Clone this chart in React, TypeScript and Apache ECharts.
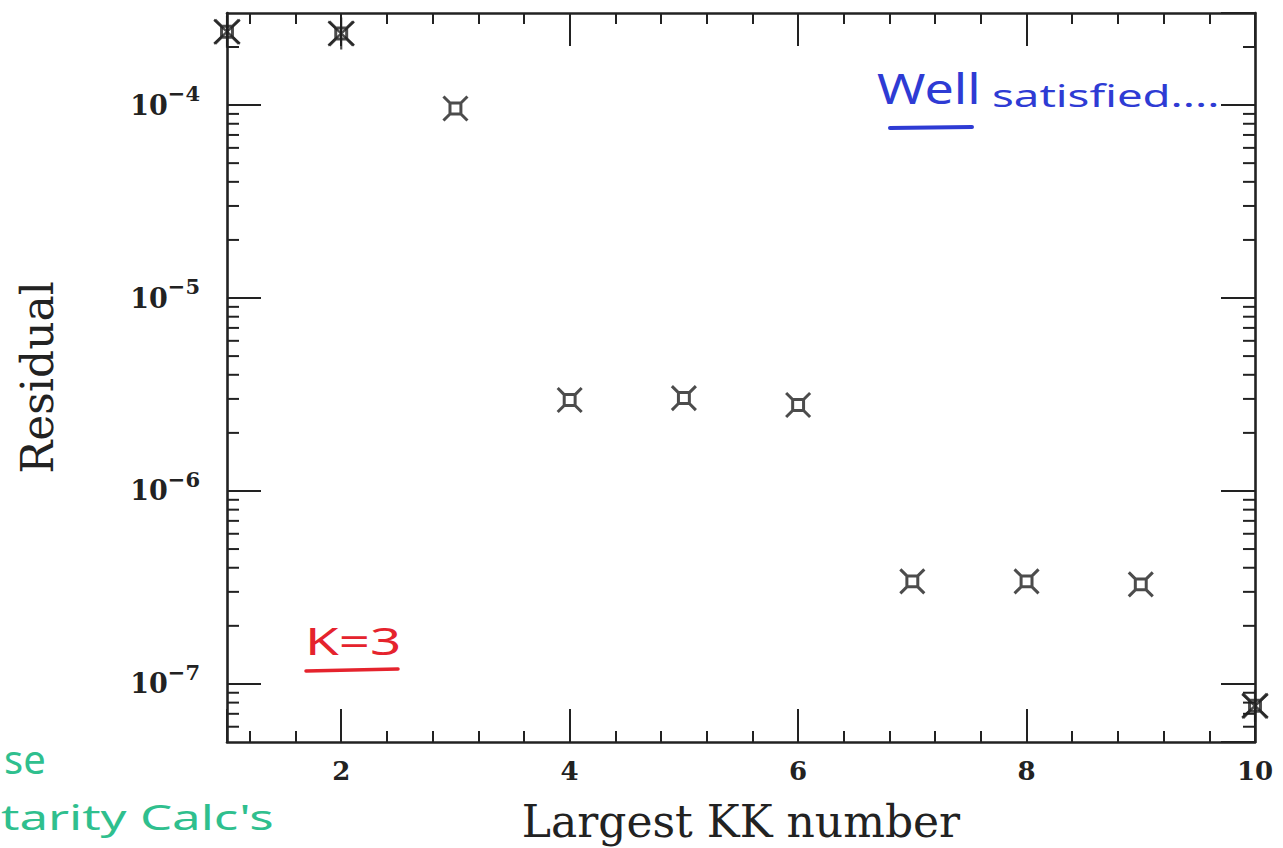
import { useEffect, useRef } from "react";
import * as echarts from "echarts";

// Residual of the KK fit versus the largest KK number included
const kkNumbers = [1, 2, 3, 4, 5, 6, 7, 8, 9, 10];
const residuals = [2.4e-4, 2.35e-4, 9.6e-5, 2.96e-6, 3.03e-6, 2.79e-6, 3.4e-7, 3.4e-7, 3.28e-7, 7.7e-8];

// points plotted twice (drawn with an extra overlaid glyph)
const doubledKK = [1, 2, 10];
const doubledResidual = [2.4e-4, 2.35e-4, 7.7e-8];

// axis ranges
const xMin = 1;
const xMax = 10;
const yMin = 5e-8;
const yMax = 3e-4;

// logarithmic minor tick positions: mantissa × 10^decade
const minorMantissas = [2, 3, 4, 5, 6, 7, 8, 9];
const decades = [-8, -7, -6, -5, -4];

const axisColor = "#222222";
const markColor = "#1f1f1f";
const serif = "'DejaVu Serif', 'Liberation Serif', serif";
const hand = "'Noto Sans', 'DejaVu Sans', sans-serif";
const blue = "#2e3bd4";
const red = "#e5232d";
const green = "#2fbf8e";

// hollow square with four diagonal spikes
const starSquare =
  "path://M7 7 L17 7 L17 17 L7 17 Z M7 7 L1 1 M17 7 L23 1 M17 17 L23 23 M7 17 L1 23";
// asterisk-like glyph laid over doubled points
const asterisk = "path://M13 0 L13 32 M1 4 L25 28 M25 4 L1 28";

export default function App() {
  const ref = useRef<HTMLDivElement>(null);

  useEffect(() => {
    if (!ref.current) return;
    const chart = echarts.init(ref.current, undefined, { renderer: "svg" });

    const minorTickValues: number[][] = [];
    decades.forEach((d) => {
      minorMantissas.forEach((m) => {
        const v = m * Math.pow(10, d);
        if (v > yMin && v < yMax) minorTickValues.push([xMin, v]);
      });
    });

    const yLabel = (v: number) => {
      const e = Math.round(Math.log10(v));
      if (Math.abs(Math.log10(v) - e) > 1e-6) return "";
      return `{b|10}{s|\u2212${Math.abs(e)}}`;
    };

    const xAxisBase = {
      type: "value" as const,
      min: xMin,
      max: xMax,
      splitNumber: 5,
      splitLine: { show: false },
      axisLine: { show: true, onZero: false, lineStyle: { color: axisColor, width: 2.6 } },
      axisTick: { show: true, inside: true, length: 33, lineStyle: { color: axisColor, width: 2 } },
      minorTick: { show: true, splitNumber: 5, length: 11, lineStyle: { color: axisColor, width: 2 } },
    };

    const yAxisBase = {
      type: "log" as const,
      logBase: 10,
      min: yMin,
      max: yMax,
      splitLine: { show: false },
      axisLine: { show: true, onZero: false, lineStyle: { color: axisColor, width: 2.6 } },
      axisTick: { show: true, inside: true, length: 34, lineStyle: { color: axisColor, width: 2 } },
      minorTick: { show: false },
    };

    chart.setOption({
      animation: false,
      backgroundColor: "#ffffff",
      grid: { left: 227, right: 28, top: 13, bottom: 104, containLabel: false },
      xAxis: [
        {
          ...xAxisBase,
          position: "bottom",
          name: "Largest KK number",
          nameLocation: "middle",
          nameGap: 57,
          nameTextStyle: { fontFamily: serif, fontSize: 44, color: axisColor },
          axisLabel: {
            show: true,
            margin: 16,
            showMinLabel: false,
            fontFamily: serif,
            fontWeight: "bold",
            fontSize: 26,
            color: axisColor,
          },
        },
        { ...xAxisBase, position: "top", axisLabel: { show: false } },
      ],
      yAxis: [
        {
          ...yAxisBase,
          position: "left",
          name: "Residual",
          nameLocation: "middle",
          nameRotate: 90,
          nameGap: 168,
          nameTextStyle: { fontFamily: serif, fontSize: 44, color: axisColor },
          axisLabel: {
            show: true,
            margin: 27,
            showMinLabel: false,
            showMaxLabel: false,
            formatter: yLabel,
            rich: {
              b: { fontFamily: serif, fontWeight: "bold", fontSize: 27, lineHeight: 44, color: axisColor },
              s: {
                fontFamily: serif,
                fontWeight: "bold",
                fontSize: 21,
                lineHeight: 26,
                verticalAlign: "top",
                color: axisColor,
              },
            },
          },
        },
        { ...yAxisBase, position: "right", axisLabel: { show: false } },
      ],
      series: [
        {
          // logarithmic minor ticks on the left and right frame edges
          type: "custom",
          silent: true,
          clip: false,
          xAxisIndex: 0,
          yAxisIndex: 0,
          data: minorTickValues,
          renderItem: (_params: any, api: any) => {
            const v = api.value(1);
            const l = api.coord([xMin, v]);
            const r = api.coord([xMax, v]);
            const st = { stroke: axisColor, lineWidth: 2 };
            return {
              type: "group",
              children: [
                { type: "line", shape: { x1: l[0], y1: l[1], x2: l[0] + 12, y2: l[1] }, style: st },
                { type: "line", shape: { x1: r[0], y1: r[1], x2: r[0] - 12, y2: r[1] }, style: st },
              ],
            };
          },
        },
        {
          type: "scatter",
          xAxisIndex: 0,
          yAxisIndex: 0,
          symbol: starSquare,
          symbolSize: 24,
          clip: false,
          itemStyle: { color: "rgba(0,0,0,0)", borderColor: markColor, borderWidth: 3 },
          data: kkNumbers.map((k, i) => [k, residuals[i]]),
          z: 5,
        },
        {
          type: "scatter",
          xAxisIndex: 0,
          yAxisIndex: 0,
          symbol: asterisk,
          symbolSize: [26, 32],
          clip: false,
          itemStyle: { color: "rgba(0,0,0,0)", borderColor: markColor, borderWidth: 2.4 },
          data: doubledKK.map((k, i) => [k, doubledResidual[i]]),
          z: 6,
        },
      ],
      graphic: [
        {
          type: "text",
          x: 877,
          y: 67,
          scaleX: 1.24,
          style: { text: "Well", fontFamily: hand, fontSize: 42, fill: blue, verticalAlign: "top" },
        },
        {
          type: "text",
          x: 992,
          y: 80,
          scaleX: 1.52,
          style: { text: "satisfied....", fontFamily: hand, fontSize: 30, fill: blue, verticalAlign: "top" },
        },
        {
          type: "line",
          shape: { x1: 890, y1: 128, x2: 972, y2: 127 },
          style: { stroke: blue, lineWidth: 4, lineCap: "round" },
        },
        {
          type: "text",
          x: 305,
          y: 620,
          scaleX: 1.4,
          style: { text: "K=3", fontFamily: hand, fontSize: 39, fill: red, verticalAlign: "top" },
        },
        {
          type: "line",
          shape: { x1: 306, y1: 671, x2: 398, y2: 669 },
          style: { stroke: red, lineWidth: 3.5, lineCap: "round" },
        },
        {
          type: "text",
          x: 4,
          y: 738,
          style: { text: "se", fontFamily: hand, fontSize: 40, fill: green, verticalAlign: "top" },
        },
        {
          type: "text",
          x: 1,
          y: 800,
          scaleX: 1.5,
          style: { text: "tarity Calc's", fontFamily: hand, fontSize: 34, fill: green, verticalAlign: "top" },
        },
      ],
    });

    return () => chart.dispose();
  }, []);

  return (
    <div
      ref={ref}
      style={{ position: "fixed", left: 0, top: 0, width: 1283, height: 848, background: "#fff" }}
    />
  );
}
